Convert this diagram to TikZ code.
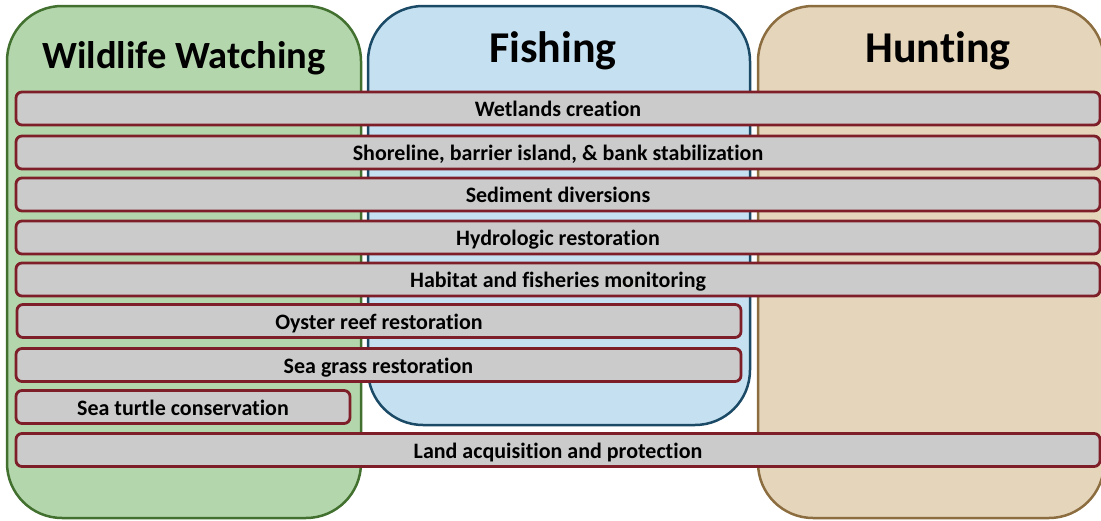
\documentclass[tikz,border=0pt]{standalone}
\usepackage{fontspec}
\setmainfont[Ligatures={NoCommon}]{Carlito}
\definecolor{gfill}{HTML}{B4D6AC}
\definecolor{gline}{HTML}{41702F}
\definecolor{bfill}{HTML}{C5E0F1}
\definecolor{bline}{HTML}{1B4A66}
\definecolor{tfill}{HTML}{E5D5BB}
\definecolor{tline}{HTML}{8C6D3F}
\definecolor{barfill}{HTML}{CBCBCB}
\definecolor{barline}{HTML}{7D1E28}
\tikzset{
  panel/.style={draw, line width=2.5pt, rounded corners=55pt, inner sep=0pt},
  bar/.style={draw=barline, fill=barfill, line width=2.8pt, rounded corners=6pt, inner sep=0pt, minimum height=33pt, text height=17.5pt, text depth=1.5pt, font=\bfseries\fontsize{22pt}{24pt}\selectfont},
  ptitle/.style={font=\bfseries\fontsize{44pt}{48pt}\selectfont, inner sep=0pt}
}
\begin{document}
\begin{tikzpicture}[x=1pt,y=-1pt]
\useasboundingbox (0,0) rectangle (1101,520);
% panels
\node[panel, draw=gline, fill=gfill, minimum width=354pt, minimum height=512pt] (wwp) at (184,262) {};
\node[panel, draw=bline, fill=bfill, minimum width=382pt, minimum height=419pt] (fip) at (559,215.5) {};
\node[panel, draw=tline, fill=tfill, minimum width=346pt, minimum height=512pt] (hup) at (931,262) {};
\node[ptitle, font=\bfseries\fontsize{38.5pt}{42pt}\selectfont] (wwt) at (184,58) {Wildlife Watching};
\node[ptitle] (fit) at (553,51) {Fishing};
\node[ptitle] (hut) at (938,51) {Hunting};
% bars
\node[bar, minimum width=1084pt] (b1) at (558,108.5) {Wetlands creation};
\node[bar, minimum width=1084pt] (b2) at (558,152.5) {Shoreline, barrier island, \& bank stabilization};
\node[bar, minimum width=1084pt] (b3) at (558,194.5) {Sediment diversions};
\node[bar, minimum width=1084pt] (b4) at (558,237.5) {Hydrologic restoration};
\node[bar, minimum width=1084pt] (b5) at (558,279.5) {Habitat and fisheries monitoring};
\node[bar, minimum width=724pt] (b6) at (379,321) {Oyster reef restoration};
\node[bar, minimum width=725pt] (b7) at (378.5,365) {Sea grass restoration};
\node[bar, minimum width=334pt] (b8) at (183,407) {Sea turtle conservation};
\node[bar, minimum width=1084pt] (b9) at (558,450) {Land acquisition and protection};
\end{tikzpicture}
\end{document}
